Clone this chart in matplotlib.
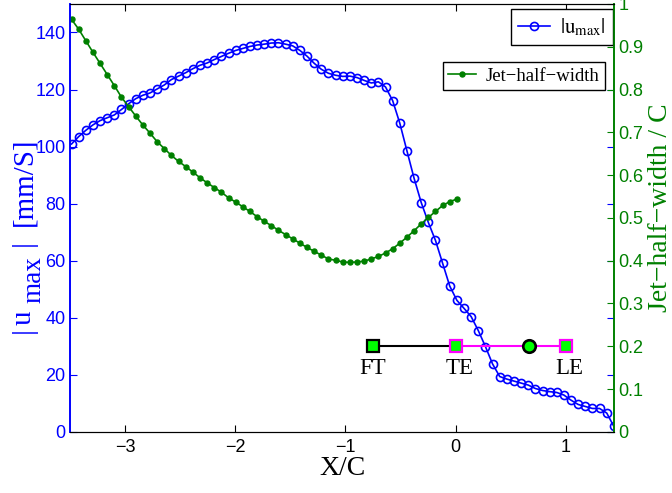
import numpy as np
from matplotlib import pyplot as plt
from matplotlib.ticker import FuncFormatter

plt.rcParams['font.family'] = ['Liberation Sans', 'DejaVu Sans']
plt.rcParams['mathtext.fontset'] = 'stix'

# |u_max| along the jet
x_u = np.linspace(-3.485, 1.437, 77)
u_max = [100.9, 103.5, 105.7, 107.6, 109.1, 110.1, 111.1, 113.0, 115.0, 116.8,
         118.0, 118.8, 120.2, 121.6, 123.5, 124.7, 125.9, 127.3, 128.5, 129.3,
         130.5, 131.6, 132.7, 133.7, 134.4, 135.1, 135.6, 135.9, 136.3, 136.4,
         135.9, 135.3, 133.7, 131.7, 129.2, 127.1, 125.7, 125.0, 124.6, 124.7,
         124.2, 123.2, 122.3, 122.7, 120.9, 116.1, 108.2, 98.5, 88.9, 80.4,
         73.4, 67.1, 59.1, 51.1, 46.1, 43.3, 40.4, 35.5, 29.9, 23.8,
         19.4, 18.5, 17.8, 17.1, 16.4, 15.2, 14.5, 14.1, 13.8, 12.9,
         11.1, 9.6, 8.9, 8.2, 8.2, 6.6, 1.9]

# jet half width / C
x_w = x_u[:55]
half_width = [0.964, 0.941, 0.914, 0.887, 0.861, 0.835, 0.809, 0.782, 0.760, 0.738,
              0.717, 0.698, 0.678, 0.662, 0.646, 0.632, 0.620, 0.607, 0.594, 0.582,
              0.571, 0.560, 0.547, 0.537, 0.526, 0.515, 0.503, 0.492, 0.482, 0.471,
              0.461, 0.451, 0.441, 0.431, 0.422, 0.413, 0.404, 0.401, 0.397, 0.396,
              0.397, 0.399, 0.404, 0.410, 0.418, 0.428, 0.441, 0.455, 0.470, 0.486,
              0.501, 0.515, 0.529, 0.538, 0.544]

# foil sketch
x_ft, x_te, x_pivot, x_le = -0.75, 0.0, 0.67, 1.0
y_foil = 30

blue = (0, 0, 1)
green = (0, 0.5, 0)
serif = 'Liberation Serif'
W, H = 672, 493

fig = plt.figure(figsize=(6.72, 4.93), dpi=100)
ax = fig.add_axes([0.104, 0.124, 0.810, 0.868])
ax2 = ax.twinx()

l1, = ax.plot(x_u, u_max, '-o', color=blue, mfc='none', mec=blue, ms=5.8, mew=1.2, lw=1.2,
              label=r'$|\mathrm{u}_{\mathrm{max}}|$')
l2, = ax2.plot(x_w, half_width, '-o', color=green, mfc=green, mec=green, ms=3.6, lw=1.2,
               label='Jet\u2212half\u2212width')

ax.plot([x_ft, x_te], [y_foil, y_foil], color='k', lw=1.5)
ax.plot([x_te, x_le], [y_foil, y_foil], color='magenta', lw=1.5)
ax.plot([x_ft], [y_foil], 's', ms=8, mfc='#00ff00', mec='k', mew=1.6)
ax.plot([x_te, x_le], [y_foil, y_foil], 's', ms=8, mfc='#00ff00', mec='magenta', mew=1.6)
ax.plot([x_pivot], [y_foil], 'o', ms=9, mfc='#00ff00', mec='k', mew=1.9)
for xx, name in [(x_ft, 'FT'), (x_te + 0.04, 'TE'), (x_le + 0.03, 'LE')]:
    ax.text(xx, y_foil - 4.0, name, family=serif, fontsize=16.5, ha='center', va='top')

ax.set_xlim(-3.5, 1.44)
ax.set_ylim(0, 150)
ax2.set_ylim(0, 1)
ax.set_xticks([-3, -2, -1, 0, 1])
ax.set_yticks(np.arange(0, 141, 20))
ax2.set_yticks(np.arange(0, 1.01, 0.1))
ax2.yaxis.set_major_formatter(FuncFormatter(lambda v, p: '%g' % round(v, 1)))

ax.tick_params(axis='x', direction='in', top=True, length=5, labelsize=13, colors='k', pad=5)
ax.tick_params(axis='y', direction='in', right=True, length=5, labelsize=13, colors=blue, pad=3)
ax2.tick_params(axis='y', direction='in', length=5, labelsize=13, colors=green, pad=3)

for a in (ax, ax2):
    a.spines['left'].set_color(blue)
    a.spines['right'].set_color(green)
    a.spines['left'].set_linewidth(1.2)
    a.spines['right'].set_linewidth(1.2)

ax.set_xlabel('X/C', family=serif, fontsize=20, labelpad=0)
ax2.set_ylabel('Jet\u2212half\u2212width / C', family=serif, fontsize=20, color=green)
ax2.yaxis.set_label_coords(1.062, 0.523)

# left label drawn piece by piece so the subscript keeps MATLAB's size
for s, size, shift, start in [('|', 21, 0, 333), ('u', 21, 0, 325), ('max', 19.5, 9, 303),
                              ('|', 21, 0, 246), ('[mm/S]', 21, 0, 226)]:
    fig.text((31 + shift) / W, 1 - start / H, s, rotation=90, rotation_mode='anchor',
             ha='left', va='baseline', family=serif, fontsize=size, color=blue)

leg_kw = dict(bbox_transform=fig.transFigure, fancybox=False, edgecolor='k', framealpha=1,
              borderaxespad=0, handlelength=1.5, handletextpad=0.5)
leg1 = ax.legend(handles=[l1], loc='upper right', bbox_to_anchor=(613 / W, 1 - 9 / H),
                 prop={'family': serif, 'size': 15}, borderpad=0.35, **leg_kw)
leg1.get_frame().set_linewidth(1.0)
leg2 = ax2.legend(handles=[l2], loc='upper right', bbox_to_anchor=(605 / W, 1 - 62 / H),
                  prop={'family': serif, 'size': 13.5}, borderpad=0.3, **leg_kw)
leg2.get_frame().set_linewidth(1.0)

plt.savefig('out.png', dpi=100)
